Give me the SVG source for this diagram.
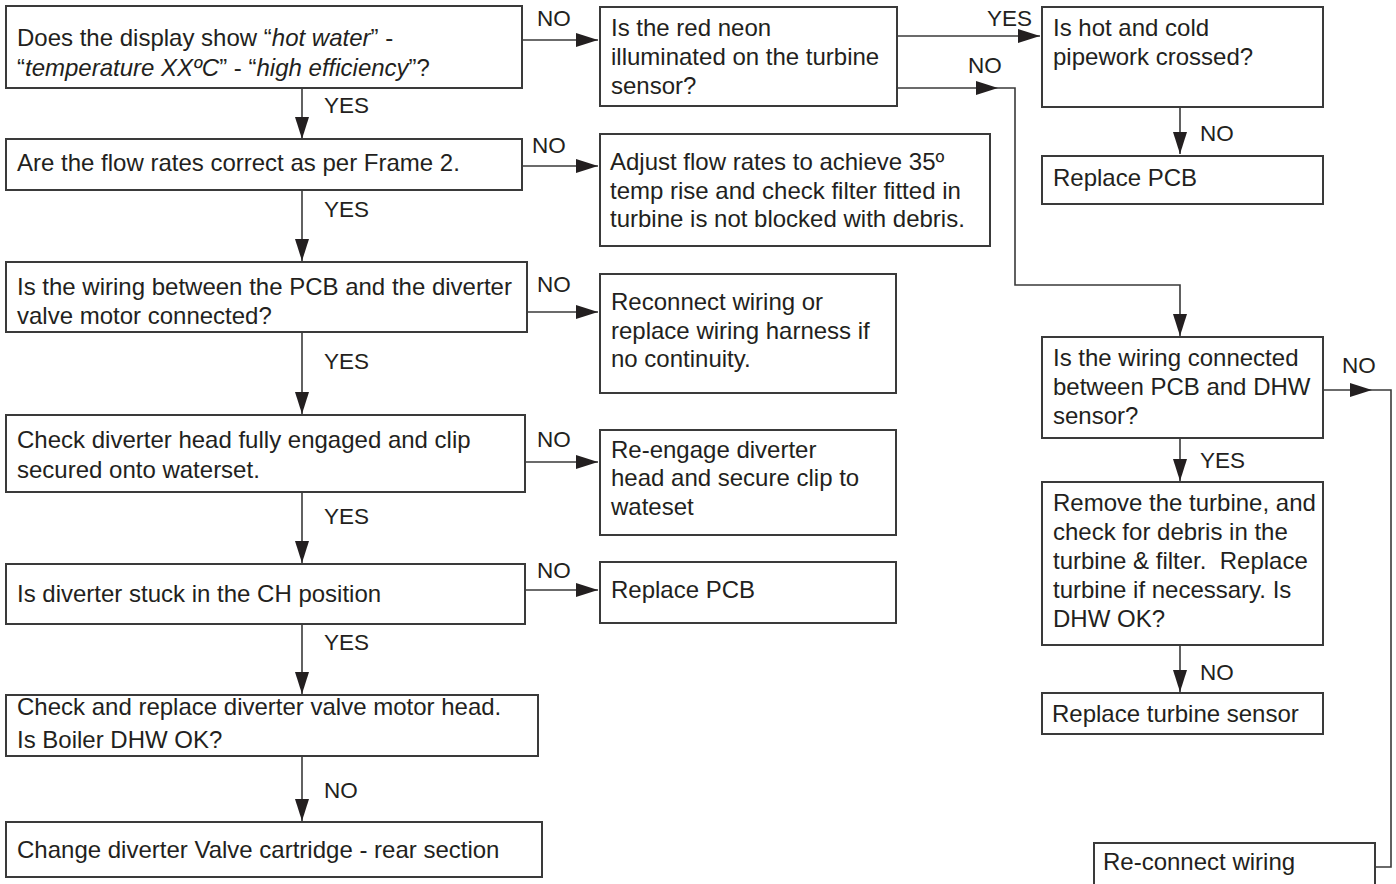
<svg xmlns="http://www.w3.org/2000/svg" width="1396" height="884" viewBox="0 0 1396 884">
<style>
.box{fill:#fff;stroke:#3a3a3a;stroke-width:2}
text{font-family:"Liberation Sans",Arial,sans-serif;font-size:24px;fill:#231f20}
.lbl{font-size:22.5px}
.con{fill:none;stroke:#3a3a3a;stroke-width:1.6}
</style>
<defs>
<marker id="ah" markerUnits="userSpaceOnUse" markerWidth="24" markerHeight="16" refX="22" refY="7" orient="auto">
<path d="M0,0 L22,7 L0,14 z" fill="#231f20"/>
</marker>
</defs>
<rect width="1396" height="884" fill="#fff"/>

<g id="connectors">
<path class="con" d="M522,40 H598" marker-end="url(#ah)"/>
<path class="con" d="M522,166 H598" marker-end="url(#ah)"/>
<path class="con" d="M527,312 H598" marker-end="url(#ah)"/>
<path class="con" d="M525,462 H598" marker-end="url(#ah)"/>
<path class="con" d="M525,590 H598" marker-end="url(#ah)"/>
<path class="con" d="M302,88 V139" marker-end="url(#ah)"/>
<path class="con" d="M302,190 V261" marker-end="url(#ah)"/>
<path class="con" d="M302,332 V414" marker-end="url(#ah)"/>
<path class="con" d="M302,492 V563" marker-end="url(#ah)"/>
<path class="con" d="M302,624 V694" marker-end="url(#ah)"/>
<path class="con" d="M302,756 V821" marker-end="url(#ah)"/>
<path class="con" d="M897,36 H1040" marker-end="url(#ah)"/>
<path class="con" d="M897,88 H998"  marker-end="url(#ah)"/>
<path class="con" d="M998,88 H1015 V285 H1180 V336" marker-end="url(#ah)"/>
<path class="con" d="M1180,107 V154" marker-end="url(#ah)"/>
<path class="con" d="M1180,438 V481" marker-end="url(#ah)"/>
<path class="con" d="M1180,645 V692" marker-end="url(#ah)"/>
<path class="con" d="M1323,390 H1372" marker-end="url(#ah)"/>
<path class="con" d="M1372,390 H1391 V867 H1375"/>
</g>

<g id="labels">
<text class="lbl" x="537" y="26">NO</text>
<text class="lbl" x="324" y="113">YES</text>
<text class="lbl" x="532" y="153">NO</text>
<text class="lbl" x="324" y="217">YES</text>
<text class="lbl" x="537" y="292">NO</text>
<text class="lbl" x="324" y="369">YES</text>
<text class="lbl" x="537" y="447">NO</text>
<text class="lbl" x="324" y="524">YES</text>
<text class="lbl" x="537" y="578">NO</text>
<text class="lbl" x="324" y="650">YES</text>
<text class="lbl" x="324" y="798">NO</text>
<text class="lbl" x="987" y="26">YES</text>
<text class="lbl" x="968" y="73">NO</text>
<text class="lbl" x="1200" y="141">NO</text>
<text class="lbl" x="1200" y="468">YES</text>
<text class="lbl" x="1200" y="680">NO</text>
<text class="lbl" x="1342" y="373">NO</text>
</g>

<g id="n1"><rect class="box" x="6" y="6" width="516" height="82"/>
<text x="17" y="46">Does the display show “<tspan font-style="italic">hot water</tspan>” -</text>
<text x="17" y="76">“<tspan font-style="italic">temperature XXºC</tspan>” - “<tspan font-style="italic">high efficiency</tspan>”?</text></g>

<g id="n2"><rect class="box" x="6" y="139" width="516" height="51"/>
<text x="17" y="171">Are the flow rates correct as per Frame 2.</text></g>

<g id="n3"><rect class="box" x="6" y="262" width="521" height="70"/>
<text x="17" y="295">Is the wiring between the PCB and the diverter</text>
<text x="17" y="324">valve motor connected?</text></g>

<g id="n4"><rect class="box" x="6" y="415" width="519" height="77"/>
<text x="17" y="448">Check diverter head fully engaged and clip</text>
<text x="17" y="478">secured onto waterset.</text></g>

<g id="n5"><rect class="box" x="6" y="564" width="519" height="60"/>
<text x="17" y="602">Is diverter stuck in the CH position</text></g>

<g id="n6"><rect class="box" x="6" y="695" width="532" height="61"/>
<text x="17" y="715">Check and replace diverter valve motor head.</text>
<text x="17" y="748">Is Boiler DHW OK?</text></g>

<g id="n7"><rect class="box" x="6" y="822" width="536" height="55"/>
<text x="17" y="858">Change diverter Valve cartridge - rear section</text></g>

<g id="nA"><rect class="box" x="600" y="7" width="297" height="99"/>
<text x="611" y="36">Is the red neon</text>
<text x="611" y="65">illuminated on the turbine</text>
<text x="611" y="94">sensor?</text></g>

<g id="nB"><rect class="box" x="600" y="134" width="390" height="112"/>
<text x="610" y="170">Adjust flow rates to achieve 35º</text>
<text x="610" y="199">temp rise and check filter fitted in</text>
<text x="610" y="227">turbine is not blocked with debris.</text></g>

<g id="nC"><rect class="box" x="600" y="274" width="296" height="119"/>
<text x="611" y="310">Reconnect wiring or</text>
<text x="611" y="339">replace wiring harness if</text>
<text x="611" y="367">no continuity.</text></g>

<g id="nD"><rect class="box" x="600" y="430" width="296" height="105"/>
<text x="611" y="458">Re-engage diverter</text>
<text x="611" y="486">head and secure clip to</text>
<text x="611" y="515">wateset</text></g>

<g id="nE"><rect class="box" x="600" y="562" width="296" height="61"/>
<text x="611" y="598">Replace PCB</text></g>

<g id="nF"><rect class="box" x="1042" y="7" width="281" height="100"/>
<text x="1053" y="36">Is hot and cold</text>
<text x="1053" y="65">pipework crossed?</text></g>

<g id="nG"><rect class="box" x="1042" y="156" width="281" height="48"/>
<text x="1053" y="186">Replace PCB</text></g>

<g id="nH"><rect class="box" x="1042" y="337" width="281" height="101"/>
<text x="1053" y="366">Is the wiring connected</text>
<text x="1053" y="395">between PCB and DHW</text>
<text x="1053" y="424">sensor?</text></g>

<g id="nI"><rect class="box" x="1042" y="482" width="281" height="163"/>
<text x="1053" y="511">Remove the turbine, and</text>
<text x="1053" y="540">check for debris in the</text>
<text x="1053" y="569" xml:space="preserve" style="white-space:pre">turbine &amp; filter.  Replace</text>
<text x="1053" y="598">turbine if necessary. Is</text>
<text x="1053" y="627">DHW OK?</text></g>

<g id="nJ"><rect class="box" x="1042" y="693" width="281" height="41"/>
<text x="1052" y="722">Replace turbine sensor</text></g>

<g id="nK"><rect class="box" x="1094" y="843" width="281" height="50"/>
<text x="1103" y="870">Re-connect wiring</text></g>
</svg>
